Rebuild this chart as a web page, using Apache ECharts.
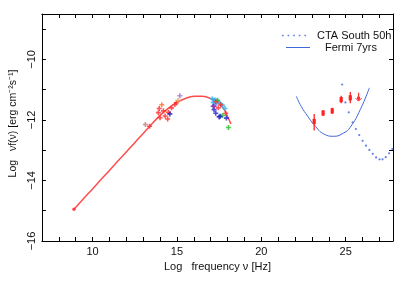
<!DOCTYPE html>
<html>
<head>
<meta charset="utf-8">
<script src="https://cdn.jsdelivr.net/npm/echarts@6/dist/echarts.min.js"></script>
<style>
html,body{margin:0;padding:0;background:#fff;}
#c{width:399px;height:282px;}
</style>
</head>
<body>
<div id="c"></div>
<script>
// ---- data (log10 frequency [Hz], log10 nuF_nu [erg cm^-2 s^-1]) ----
var xTickValues = [10, 15, 20, 25];
var yTickValues = [-16, -14, -12, -10];
var syncModel = [[8.9,-14.95],[9.5,-14.58],[10,-14.28],[10.5,-13.97],[11,-13.67],[11.5,-13.36],[12,-13.06],[12.5,-12.75],[13,-12.45],[13.5,-12.14],[14,-11.85],[14.5,-11.61],[15,-11.42],[15.5,-11.29],[16,-11.22],[16.5,-11.22],[17,-11.29],[17.5,-11.44],[17.8,-11.66],[18.05,-11.95],[18.2,-12.13]];
var radioPts = [[8.9,-14.95]];
var optRed = [[13.38,-12.21],[13.9,-11.76],[14.0,-11.93],[14.2,-11.7],[14.3,-11.87],[14.45,-11.97],[14.68,-11.6],[14.88,-11.49],[14.97,-11.43],[13.95,-11.62],[14.5,-11.75]];
var optOrange = [[14.1,-11.5]];
var optBlue = [[14.58,-11.8]];
var optPurple = [[15.17,-11.2]];
var optTan = [[15.07,-11.36]];
var optBrown = [[13.13,-12.15]];
var xCyan = [[17.1,-11.3],[17.25,-11.33],[17.4,-11.38],[17.55,-11.45],[17.7,-11.52],[17.85,-11.62],[17.15,-11.42],[17.3,-11.47]];
var xGreen = [[17.4,-11.35],[17.7,-11.85],[18.05,-12.25]];
var xBlue = [[17.2,-11.66],[17.15,-11.55],[17.5,-11.9],[17.56,-11.88],[17.93,-11.94],[17.3,-11.78]];
var xRed = [[17.3,-11.4],[17.6,-11.5],[17.89,-11.78],[17.45,-11.6]];
var xPurple = [[17.2,-11.55]];
// gamma-ray points: [x, y, yLow, yHigh]
var gammaPts = [[23.13,-12.05,-12.35,-11.8],[23.66,-11.77,-11.87,-11.68],[24.2,-11.7,-11.8,-11.6],[24.73,-11.33,-11.45,-11.2],[25.27,-11.27,-11.45,-11.08]];
var gammaUL = [[25.76,-11.33,-11.1]];
var fermi7yrs = [[22.07,-11.22],[22.36,-11.55],[22.75,-11.88],[23.13,-12.16],[23.72,-12.47],[24.3,-12.54],[24.88,-12.43],[25.27,-12.24],[25.86,-11.66],[26.4,-10.94]];
var ctaSouth50h = [[24.79,-10.83],[24.98,-11.42],[25.18,-11.75],[25.41,-12.08],[25.6,-12.3],[25.8,-12.5],[26.0,-12.69],[26.2,-12.85],[26.4,-12.99],[26.6,-13.12],[26.8,-13.24],[27.0,-13.3],[27.18,-13.3],[27.37,-13.23],[27.57,-13.1],[27.76,-12.96]];

var FONT = '"Liberation Sans", Arial, sans-serif';
var plusPath = 'path://M-0.8,-2.5h1.6v5h-1.6z M-2.5,-0.8h5v1.6h-5z';
function minus(v){ return String(v).replace('-', '\u2212'); }

function plusSeries(name, data, color){
  return {type:'scatter', name:name, data:data, symbol:plusPath, symbolSize:5,
    itemStyle:{color:color}, z:4, silent:true};
}

var chart = echarts.init(document.getElementById('c'), null, {renderer:'canvas'});
var axisCommon = {
  axisLine:{onZero:false, lineStyle:{color:'#000', width:1}},
  axisTick:{inside:true, length:4, lineStyle:{color:'#000'}},
  splitLine:{show:false}
};
var option = {
  animation:false,
  grid:{left:36, right:6, top:14, bottom:41},
  legend:[
    {data:[{name:'CTA South 50h', icon:'path://M0,0h1.6v1.6h-1.6z M5.4,0h1.6v1.6h-1.6z M10.8,0h1.6v1.6h-1.6z M16.2,0h1.6v1.6h-1.6z M21.6,0h1.6v1.6h-1.6z'}],
     left:277, top:25, itemWidth:24, itemHeight:1.8,
     textStyle:{fontFamily:FONT, fontSize:11, color:'#111', padding:[0,0,0,6]}},
    {data:[{name:'Fermi 7yrs', icon:'rect'}],
     left:281, top:37, itemWidth:24, itemHeight:1,
     textStyle:{fontFamily:FONT, fontSize:11, color:'#111', padding:[0,0,0,10]}}
  ],
  xAxis:[
    Object.assign({type:'value', min:7, max:27.8, interval:1, position:'bottom',
      name:'Log   frequency \u03bd [Hz]', nameLocation:'middle', nameGap:12,
      nameTextStyle:{fontFamily:FONT, fontSize:11, color:'#111'},
      axisLabel:{fontFamily:FONT, fontSize:11, color:'#111', margin:5,
        formatter:function(v){ return xTickValues.indexOf(v) >= 0 ? minus(v) : ''; }}
    }, axisCommon),
    Object.assign({type:'value', min:7, max:27.8, interval:1, position:'top',
      axisLabel:{show:false}}, axisCommon)
  ],
  yAxis:[
    Object.assign({type:'value', min:-16, max:-8.5, interval:1, position:'left',
      name:'Log   \u03bdf(\u03bd) [erg cm\u207b\u00b2s\u207b\u00b9]', nameLocation:'middle', nameGap:19,
      nameTextStyle:{fontFamily:FONT, fontSize:10.5, color:'#111', padding:[0,0,0,8]},
      axisLabel:{fontFamily:FONT, fontSize:11, color:'#111', rotate:90, margin:4,
        formatter:function(v){ return yTickValues.indexOf(v) >= 0 ? minus(v) : ''; }}
    }, axisCommon),
    Object.assign({type:'value', min:-16, max:-8.5, interval:1, position:'right',
      axisLabel:{show:false}}, axisCommon)
  ],
  series:[
    {type:'line', name:'sync', data:syncModel, smooth:0.35, showSymbol:false, symbol:'none',
      lineStyle:{color:'#ff4d4d', width:1.5}, z:3, silent:true},
    {type:'scatter', name:'radio', data:radioPts, symbol:'circle', symbolSize:3.5, itemStyle:{color:'#ff2030'}, z:4},
    plusSeries('optRed', optRed, '#ff2a2a'),
    plusSeries('optOrange', optOrange, '#ff6a2a'),
    plusSeries('optBlue', optBlue, '#1a1ac0'),
    plusSeries('optPurple', optPurple, '#a070d0'),
    plusSeries('optTan', optTan, '#e0a060'),
    plusSeries('optBrown', optBrown, '#c07878'),
    plusSeries('xCyan', xCyan, '#30b0f0'),
    plusSeries('xGreen', xGreen, '#20c020'),
    plusSeries('xRed', xRed, '#ff3030'),
    plusSeries('xBlue', xBlue, '#2020c8'),
    plusSeries('xPurple', xPurple, '#b030b0'),
    {type:'custom', name:'gamma', data:gammaPts, z:5, silent:true,
      renderItem:function(params, api){
        var p = api.coord([api.value(0), api.value(1)]);
        var lo = api.coord([api.value(0), api.value(2)]);
        var hi = api.coord([api.value(0), api.value(3)]);
        return {type:'group', children:[
          {type:'line', shape:{x1:p[0], y1:lo[1], x2:p[0], y2:hi[1]}, style:{stroke:'#ff2020', lineWidth:1.3}},
          {type:'rect', shape:{x:p[0]-1.6, y:p[1]-2.6, width:3.2, height:5.2}, style:{fill:'#ff2020'}}
        ]};
      }},
    {type:'custom', name:'gammaUL', data:gammaUL, z:5, silent:true,
      renderItem:function(params, api){
        var p = api.coord([api.value(0), api.value(1)]);
        var hi = api.coord([api.value(0), api.value(2)]);
        return {type:'group', children:[
          {type:'line', shape:{x1:p[0], y1:p[1]+1, x2:p[0], y2:hi[1]}, style:{stroke:'#ff3030', lineWidth:1.2}},
          {type:'polyline', shape:{points:[[p[0]-3,p[1]-1.5],[p[0],p[1]+1.5],[p[0]+3,p[1]-1.5]]}, style:{stroke:'#ff3030', fill:null, lineWidth:1}},
          {type:'rect', shape:{x:p[0]-1.5, y:p[1]-3, width:3, height:3}, style:{fill:'#ff3030'}}
        ]};
      }},
    {type:'line', name:'Fermi 7yrs', data:fermi7yrs, smooth:true, showSymbol:false, symbol:'none',
      itemStyle:{color:'#4466dd'}, lineStyle:{color:'#4466dd', width:1}, z:3},
    {type:'scatter', name:'CTA South 50h', data:ctaSouth50h, symbol:'circle', symbolSize:2.2,
      itemStyle:{color:'#3d62dd'}, z:3}
  ]
};
chart.setOption(option);
</script>
</body>
</html>
